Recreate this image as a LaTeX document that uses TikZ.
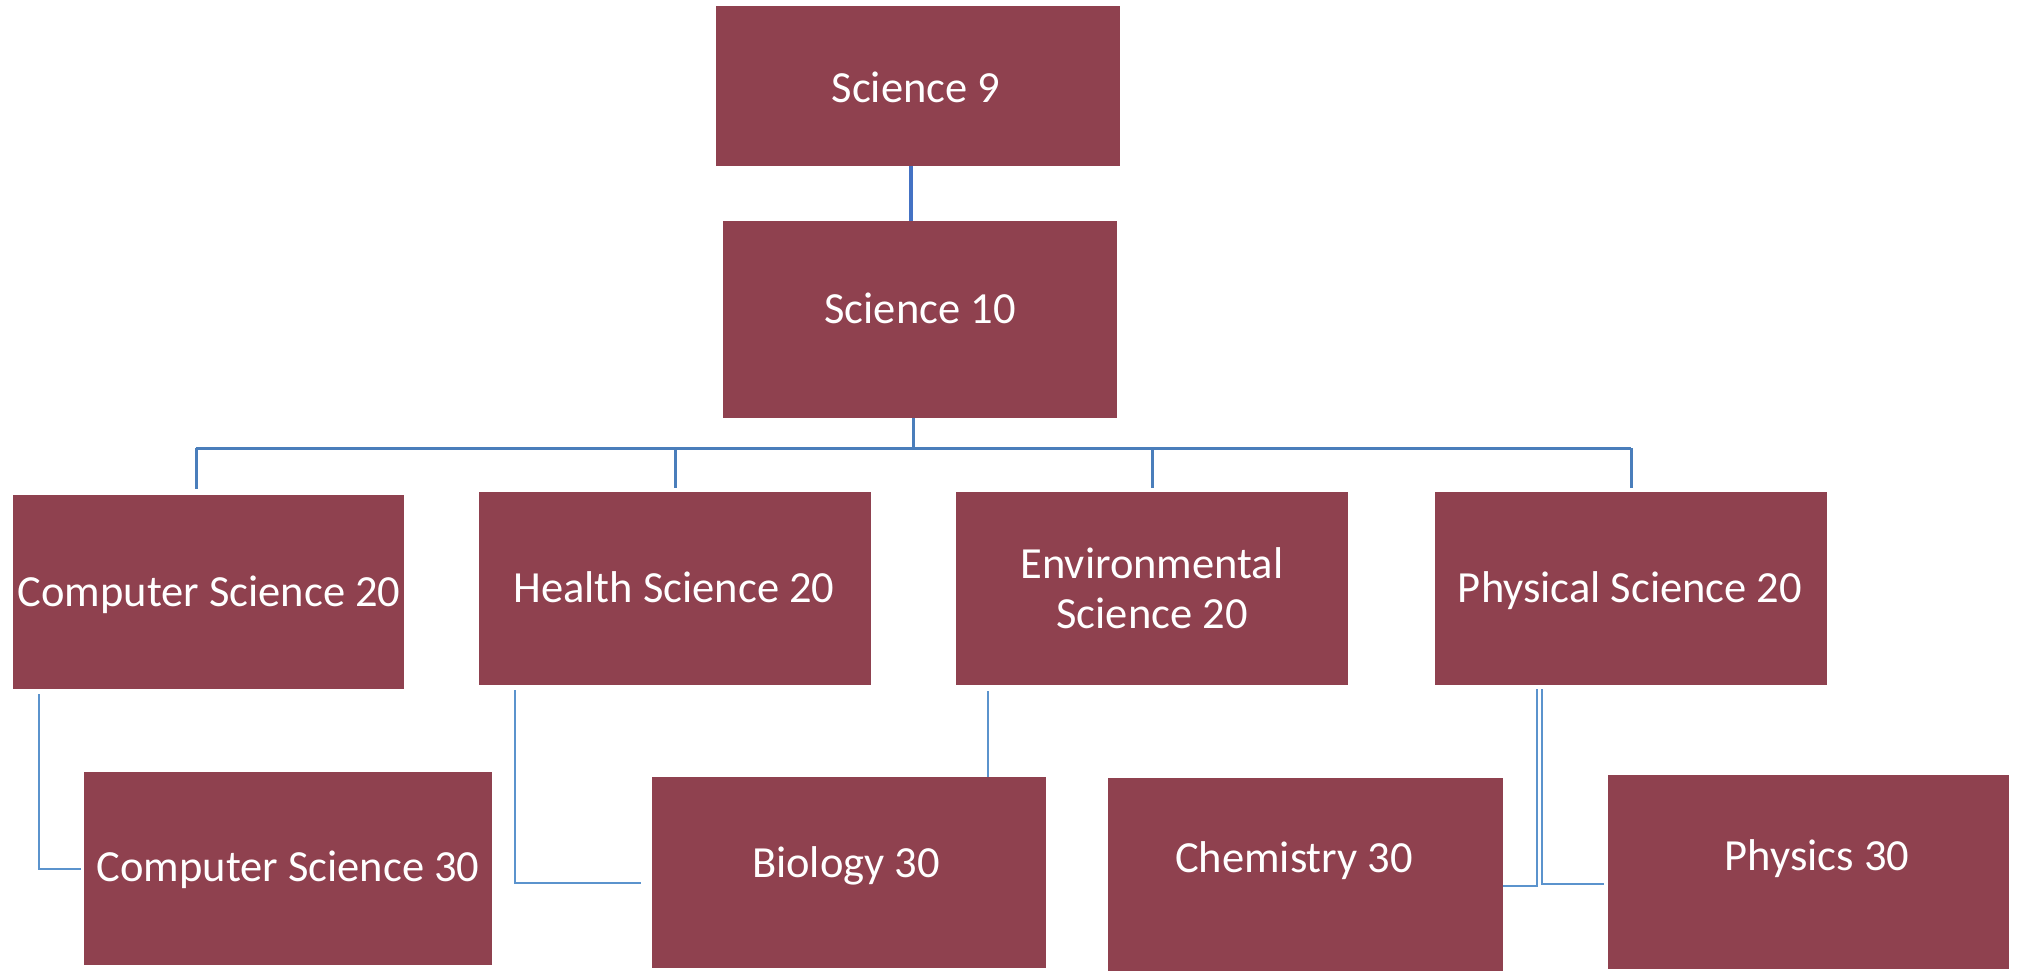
\documentclass[tikz,border=0pt]{standalone}
\usepackage{fontspec}
\setmainfont{Carlito}
\definecolor{boxred}{HTML}{8F414F}
\definecolor{busblue}{HTML}{4A7EBB}
\definecolor{linkblue}{HTML}{5B93CD}
\definecolor{mainblue}{HTML}{4472C4}
\begin{document}
\begin{tikzpicture}[x=0.5pt,y=-0.5pt,
  box/.style={fill=boxred, draw=none, inner sep=0pt},
  lbl/.style={text=white, font=\fontsize{22.25}{25}\selectfont, inner sep=0pt, text depth=0pt},
  lbltwo/.style={text=white, font=\fontsize{22.25}{25}\selectfont, inner sep=0pt, align=center},
  trunk/.style={draw=busblue, line width=1.5pt},
  link/.style={draw=linkblue, line width=1pt},
  mainlink/.style={draw=mainblue, line width=2pt}]
\useasboundingbox (0,0) rectangle (2023,971);
% boxes
\node[box, minimum width=202pt, minimum height=80pt] (s9) at (918,86) {};
\node[box, minimum width=197pt, minimum height=98.5pt] (s10) at (920,319.5) {};
\node[box, minimum width=195.5pt, minimum height=97pt] (cs20) at (208.5,592) {};
\node[box, minimum width=196pt, minimum height=96.5pt] (hs20) at (675,588.5) {};
\node[box, minimum width=196pt, minimum height=96.5pt] (es20) at (1152,588.5) {};
\node[box, minimum width=196pt, minimum height=96.5pt] (ps20) at (1631,588.5) {};
\node[box, minimum width=204pt, minimum height=96.5pt] (cs30) at (288,868.5) {};
\node[box, minimum width=197pt, minimum height=95.5pt] (bio30) at (849,872.5) {};
\node[box, minimum width=197.5pt, minimum height=96.5pt] (chem30) at (1305.5,874.5) {};
\node[box, minimum width=200.5pt, minimum height=97pt] (phys30) at (1808.5,872) {};
% labels
\node[lbl] (s9t) at (916,87) {Science 9};
\node[lbl] (s10t) at (920,308) {Science 10};
\node[lbl] (cs20t) at (209,591) {Computer Science 20};
\node[lbl] (hs20t) at (674,587) {Health Science 20};
\node[lbltwo] (es20t) at (1152,588) {Environmental\\Science 20};
\node[lbl] (ps20t) at (1630,587) {Physical Science 20};
\node[lbl] (cs30t) at (288,866) {Computer Science 30};
\node[lbl] (bio30t) at (846,862) {Biology 30};
\node[lbl] (chem30t) at (1294,857) {Chemistry 30};
\node[lbl] (phys30t) at (1817,855) {Physics 30};
% Science 9 -> Science 10
\coordinate (a9) at ([xshift=-3.5pt]s9.south);
\draw[mainlink] (a9) -- (a9 |- s10.north);
% Science 10 -> bus
\coordinate (hub) at (913,448);
\coordinate (bL) at (196,448);
\coordinate (bH) at (675,448);
\coordinate (bE) at (1152,448);
\coordinate (bR) at (1631,448);
\draw[trunk] (hub |- s10.south) -- (hub);
\draw[trunk] (bL) -- (bR);
\draw[trunk, shorten >=3pt] (bL) -- (bL |- cs20.north);
\draw[trunk, shorten >=2pt] (bH) -- (bH |- hs20.north);
\draw[trunk, shorten >=2pt] (bE) -- (bE |- es20.north);
\draw[trunk, shorten >=2pt] (bR) -- (bR |- ps20.north);
% lower connectors
\coordinate (c1) at ([xshift=13pt]cs20.south west);
\draw[link, shorten <=2.5pt, shorten >=1.5pt] (c1) |- (cs30.west);
\coordinate (c2) at ([xshift=18pt]hs20.south west);
\draw[link, shorten <=2.5pt, shorten >=5.5pt] (c2) |- ([yshift=-5pt]bio30.west);
\coordinate (c3) at ([xshift=16pt]es20.south west);
\draw[link, shorten <=3pt] (c3) -- (c3 |- bio30.north);
\coordinate (c4) at ([xshift=51pt]ps20.south west);
\draw[link, shorten <=2pt] (c4) |- ([yshift=-5.75pt]chem30.east);
\coordinate (c5) at ([xshift=53.5pt]ps20.south west);
\draw[link, shorten <=2pt, shorten >=2pt] (c5) |- ([yshift=-6pt]phys30.west);
\end{tikzpicture}
\end{document}
